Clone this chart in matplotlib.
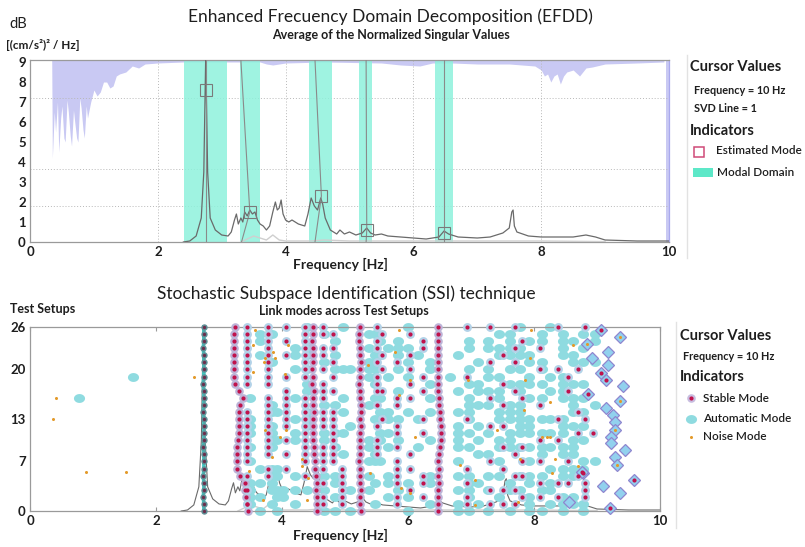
import matplotlib
matplotlib.use("Agg")
import matplotlib.pyplot as plt
import numpy as np
from matplotlib.path import Path

plt.rcParams['font.family'] = ['Lato', 'DejaVu Sans']

# ---------------- EFDD data (top panel) ----------------
spec_f = [2.40, 2.50, 2.60, 2.68, 2.72, 2.75, 2.78, 2.82, 2.90, 3.00, 3.10, 3.15, 3.20, 3.23,
          3.26, 3.30, 3.33, 3.36, 3.40, 3.44, 3.48, 3.52, 3.56, 3.60, 3.65, 3.70, 3.75, 3.80,
          3.84, 3.87, 3.90, 3.93, 3.96, 4.00, 4.05, 4.10, 4.20, 4.30, 4.35, 4.40, 4.45, 4.50,
          4.55, 4.58, 4.62, 4.70, 4.80, 4.85, 4.92, 5.00, 5.10, 5.20, 5.27, 5.33, 5.40, 5.50,
          5.60, 5.80, 6.00, 6.20, 6.40, 6.48, 6.55, 6.70, 7.00, 7.20, 7.40, 7.50, 7.54, 7.56,
          7.58, 7.62, 7.80, 8.00, 8.50, 8.70, 8.85, 9.00, 9.50, 10.0]
spec_v = [0.00, 0.05, 0.30, 1.20, 3.50, 9.30, 3.50, 1.20, 0.60, 0.35, 0.30, 0.50, 1.10, 1.40,
          0.90, 1.20, 1.00, 1.50, 1.30, 1.60, 1.40, 1.50, 1.10, 0.90, 0.80, 0.60, 0.80, 1.50,
          2.00, 1.60, 1.70, 2.10, 1.40, 1.10, 1.00, 1.10, 0.90, 0.80, 1.40, 2.20, 1.80, 1.60,
          2.20, 1.90, 1.20, 0.60, 0.40, 0.60, 0.40, 0.50, 0.35, 0.45, 0.70, 0.45, 0.35, 0.40,
          0.30, 0.25, 0.20, 0.15, 0.25, 0.55, 0.40, 0.25, 0.20, 0.25, 0.45, 0.70, 1.50, 1.60,
          0.80, 0.50, 0.30, 0.25, 0.25, 0.35, 0.25, 0.10, 0.05, 0.05]
sv2_f = [3.30, 3.40, 3.50, 3.60, 3.70, 3.80, 3.90, 4.00, 4.40, 4.60, 5.00, 6.00, 7.00, 8.00, 9.00]
sv2_v = [0.00, 0.15, 0.30, 0.20, 0.10, 0.35, 0.10, 0.05, 0.05, 0.10, 0.05, 0.05, 0.05, 0.05, 0.02]

# lower edge of the normalized-SV shading hanging from the top
shade_f = [0.34, 0.35, 0.38, 0.40, 0.43, 0.45, 0.48, 0.50, 0.53, 0.55, 0.58, 0.60, 0.63, 0.65,
           0.68, 0.70, 0.73, 0.75, 0.78, 0.80, 0.83, 0.85, 0.88, 0.90, 0.95, 1.00, 1.05, 1.10,
           1.15, 1.20, 1.25, 1.30, 1.35, 1.40, 1.50, 1.60, 1.70, 1.80, 2.00, 2.40, 3.60, 3.70,
           3.80, 4.00, 4.60, 5.50, 5.80, 6.10, 6.30, 6.60, 7.00, 7.50, 7.90, 8.00, 8.05, 8.10,
           8.15, 8.20, 8.25, 8.30, 8.35, 8.40, 8.50, 8.60, 8.70, 8.80, 9.00, 9.50, 9.92]
shade_v = [9.10, 4.20, 6.50, 5.50, 7.00, 4.50, 6.20, 6.80, 5.20, 5.00, 7.10, 6.50, 5.30, 4.80,
           6.60, 6.00, 5.20, 5.00, 7.20, 6.70, 5.60, 5.20, 6.80, 6.20, 7.00, 7.60, 7.30, 7.50,
           8.00, 8.00, 7.70, 7.80, 8.30, 8.40, 8.50, 8.80, 8.70, 8.90, 8.95, 9.00, 9.00, 8.90,
           8.85, 8.95, 9.00, 8.95, 8.85, 8.80, 8.95, 8.95, 8.90, 8.90, 8.80, 8.60, 8.30, 8.40,
           8.00, 8.30, 8.40, 7.90, 8.30, 8.50, 8.60, 8.30, 8.70, 8.75, 8.90, 8.95, 9.00]

domain_lo = [2.41, 3.29, 4.37, 5.15, 6.34]
domain_hi = [3.08, 3.60, 4.73, 5.35, 6.62]

mode_f = [2.76, 3.44, 4.56, 5.27, 6.48]
mode_v = [7.60, 1.50, 2.30, 0.60, 0.45]
mode_top_f = [2.76, 3.30, 4.46, 5.26, 6.48]
mode_bot_f = [2.76, 3.31, 4.46, 5.26, 6.48]

# ---------------- SSI data (bottom panel) ----------------
rows = list(range(27))
chain_teal = [2.76, 2.76, 2.75, 2.76, 2.76, 2.75, 2.76, 2.76, 2.76, 2.75, 2.76, 2.76, 2.76, 2.76,
              2.75, 2.76, 2.76, 2.76, 2.75, 2.76, 2.76, 2.76, 2.76, 2.75, 2.76, 2.76, 2.76]
chain_a = [3.46, 3.45, 3.43, 3.42, 3.41, 3.33, 3.29, 3.28, 3.28, 3.29, 3.30, 3.31, 3.31, 3.32,
           3.32, 3.33, 3.38, 3.31, 3.26, 3.24, 3.24, 3.24, 3.24, 3.24, 3.24, 3.24, 3.25]
chain_b = [4.55, 4.55, 4.55, 4.54, 4.55, 4.54, 4.53, 4.52, 4.50, 4.50, 4.49, 4.49, 4.49, 4.49,
           4.50, 4.49, 4.49, 4.50, 4.48, 4.49, 4.48, 4.49, 4.49, 4.49, 4.48, 4.49, 4.49]
chain_c = [5.25, 5.24, 5.24, 5.25, 5.24, 5.24, 5.24, 5.23, 5.24, 5.24, 5.24, 5.24, 5.25, 5.24,
           5.25, 5.25, 5.24, 5.24, 5.23, 5.24, 5.24, 5.25, 5.24, 5.24, 5.23, 5.23, 5.24]
chain_d = [6.47, 6.47, 6.48, 6.48, 6.49, 6.48, 6.49, 6.48, 6.49, 6.50, 6.52, 6.52, 6.53, 6.51,
           6.50, 6.49, 6.49, 6.48, 6.48, 6.47, 6.47, 6.48, 6.48, 6.48, 6.47, 6.48, 6.48]

stable_x = [3.44, 3.77, 4.07, 4.37, 4.65, 4.81, 4.95, 5.50, 5.58, 5.82, 6.03, 6.24,
            6.93, 7.30, 7.51, 7.70, 7.81, 8.10, 8.38, 8.54, 8.70, 8.81, 8.94]
stable_rows = [
    [26, 25, 24, 23, 22, 21, 20, 19, 18, 14, 13, 12, 11, 10, 9, 8, 7, 5, 3, 1],
    [26, 25, 24, 23, 22, 21, 20, 19, 18, 16, 15, 14, 13, 12, 11, 10, 9, 8, 6, 5],
    [26, 24, 22, 19, 17, 16, 15, 14, 13, 12, 10, 8, 6],
    [26, 25, 24, 23, 22, 21, 20, 19, 16, 15, 14, 13, 12, 11, 10, 9, 8, 7, 5],
    [26, 25, 23, 22, 20, 18, 17, 16, 14, 13, 12, 9, 8, 7, 6, 4, 2, 1],
    [25, 23, 21, 19, 17, 14, 13, 12, 11, 10, 9, 8, 7],
    [6, 5, 4, 3, 2, 1],
    [26, 24, 23, 21, 19, 18, 17, 15, 12, 10, 9, 8],
    [25, 22, 20, 17, 13],
    [21, 16, 15, 12, 11, 9, 7, 6, 5, 4, 2, 1],
    [25, 22, 20, 18, 16, 8, 6, 3],
    [24, 23, 19, 17, 13, 11, 5, 4, 2],
    [26, 19, 13, 6, 4, 2, 1],
    [26, 21, 16, 12, 7, 3, 1],
    [22, 18, 15, 12, 9, 6, 3, 1],
    [26, 23, 21, 17, 8, 5, 3, 1],
    [24, 16, 9, 7, 5, 2],
    [23, 20, 15, 10, 7, 4, 2],
    [26, 20, 13, 10, 4, 2],
    [19, 17, 7, 4],
    [20, 14, 11, 5],
    [26, 13, 4, 3, 2],
    [11],
]

auto_x = [3.49, 3.65, 3.84, 3.92, 4.02, 4.21, 4.40, 4.67, 4.84, 4.97, 5.08, 5.38, 5.48, 5.56,
          5.69, 5.84, 6.00, 6.16, 6.35, 6.79, 6.97, 7.11, 7.27, 7.44, 7.62, 7.78, 7.92, 8.13,
          8.25, 8.46, 8.62, 8.78, 8.97]
auto_rows = [
    [16, 13, 12, 11, 9, 7, 4, 3, 2, 1],
    [25, 24, 22, 6, 4, 2, 0],
    [25, 21, 15, 14, 12, 11, 10, 9, 6, 5, 4, 3, 1],
    [14, 10, 6, 5, 3, 2, 0],
    [3, 2],
    [23, 22, 20, 16, 13, 11, 10, 5, 3, 1],
    [26, 23, 22, 20, 18, 17, 14, 13, 12, 3],
    [25, 21, 15, 11, 10, 5, 3, 0],
    [24, 22, 20, 15, 11, 9, 5, 4, 2, 0],
    [26, 20, 16, 14, 11, 8, 3],
    [20, 12, 3, 0],
    [25, 23, 21, 20, 19, 15, 10, 9, 7, 5, 3],
    [25, 22, 21, 20, 19, 18, 16, 13, 8, 7, 4, 1],
    [24, 22, 16, 14, 11, 10, 7],
    [23, 19, 14, 13, 11, 9, 5, 4, 2],
    [24, 23, 22, 20, 17, 13, 10, 3],
    [26, 23, 21, 19, 14, 4, 2, 0],
    [22, 13, 9],
    [21, 20, 18, 16, 14, 10, 5, 4, 1],
    [22, 17, 14, 12, 11, 10, 9, 7, 5, 3, 1, 0],
    [24, 23, 20, 18, 16, 15, 14, 13, 11, 9, 5, 4, 3, 2, 0],
    [21, 18, 17, 15, 12, 10, 8, 4, 1],
    [24, 23, 20, 19, 17, 15, 11, 8, 5, 3, 0],
    [25, 23, 22, 19, 17, 16, 14, 13, 10, 9, 7, 5, 2],
    [25, 24, 23, 22, 20, 18, 15, 14, 13, 11, 10, 9, 4, 3, 0],
    [26, 23, 22, 20, 18, 17, 15, 14, 13, 12, 11, 9, 5, 3],
    [24, 22, 21, 19, 18, 16, 13, 12, 11, 9, 7, 5, 4, 2, 1, 0],
    [25, 24, 21, 20, 18, 16, 13, 11, 9, 8, 5, 3, 0],
    [26, 19, 17, 13, 11, 9, 6, 4, 3, 1],
    [25, 24, 23, 22, 19, 18, 17, 16, 13, 12, 11, 9, 8, 6, 5, 2, 1, 0],
    [24, 22, 21, 18, 16, 15, 14, 12, 10, 9, 8, 6, 5, 2, 1],
    [25, 23, 21, 18, 16, 14, 12, 10, 7, 6, 1, 0],
    [25, 24, 21, 15, 7],
]
auto_extra_x = [0.78, 1.64, 6.67]
auto_extra_y = [16.0, 19.0, 19.0]

noise_x = [0.42, 0.37, 0.89, 1.52, 2.60, 3.57, 3.54, 3.86, 4.10, 3.73, 3.71, 3.89, 3.54, 4.05,
           3.73, 4.07, 3.97, 4.31, 4.31, 4.42, 3.84, 3.47, 3.70, 4.39, 5.85, 5.79, 5.37, 6.03,
           5.85, 6.11, 5.40, 6.03, 5.89, 7.96, 7.94, 6.96, 7.86, 7.84, 7.41, 8.12, 8.20, 6.83,
           7.06, 7.78, 7.75, 7.06, 8.62, 8.25, 8.25, 8.33, 8.70, 8.29]
noise_y = [16.0, 13.0, 5.5, 5.5, 19.0, 25.6, 23.4, 22.5, 23.4, 21.6, 21.0, 21.6, 19.6, 19.4,
           11.4, 11.4, 10.5, 7.4, 6.3, 4.6, 7.7, 5.6, 1.6, 1.6, 25.6, 22.5, 20.6, 18.5,
           16.4, 10.5, 5.3, 2.5, 3.3, 25.6, 21.6, 18.5, 18.5, 14.3, 11.4, 10.5, 10.5, 6.5,
           4.4, 7.4, 1.3, 0.8, 23.4, 15.4, 10.5, 7.4, 6.3, 5.4]

diam_x = [9.07, 9.37, 8.84, 8.92, 9.18, 9.18, 9.07, 9.15, 9.42, 8.86, 9.37, 9.15, 9.26, 9.29,
          9.29, 9.23, 9.22, 9.44, 9.29, 9.31, 8.77, 9.58, 9.10, 9.37, 8.55, 9.21, 8.76]
diam_y = [25.6, 24.6, 23.6, 21.6, 22.5, 20.6, 19.5, 18.5, 17.6, 16.6, 15.5, 14.5, 13.6, 12.6,
          11.5, 10.5, 9.6, 8.6, 7.7, 6.5, 5.4, 4.4, 3.5, 2.5, 1.3, 0.4, 5.5]
# centre mark inside each diamond: 's' stable, 'n' noise, '' none
diam_core = ['s', 'n', 'n', '', '', '', 's', 's', '', 's', 'n', '', '', '',
             'n', '', '', '', '', 'n', 's', 's', '', '', '', 's', 's']

ssi_spec_scale = 2.85

# ---------------- styling ----------------
c_shade = '#c9c9f3'
c_domain = '#8ef2dc'
c_line = '#6a6a6a'
c_auto = '#8fdbe0'
c_halo = '#b3d2e8'
c_stable = '#c0124c'
c_noise = '#e39a2a'
c_chain = '#e0607e'
c_teal = '#3fc9c2'
c_text = '#1e1e1e'

ellipse = Path(np.column_stack([np.cos(np.linspace(0, 2 * np.pi, 40)),
                                0.8 * np.sin(np.linspace(0, 2 * np.pi, 40))]))

fig = plt.figure(figsize=(8.05, 5.47), dpi=100)
W, H = 805, 547

ax1 = fig.add_axes([30 / W, 1 - 242 / H, 639 / W, 182 / H])
ax2 = fig.add_axes([30 / W, 1 - 511 / H, 630 / W, 184 / H])

# ----- top: EFDD -----
ax1.fill_between(shade_f, shade_v, 9.1, color=c_shade, lw=0, zorder=1)
ax1.axvspan(9.95, 10.0, color=c_shade, lw=0, zorder=1)
for lo, hi in zip(domain_lo, domain_hi):
    ax1.axvspan(lo, hi, color=c_domain, alpha=0.85, lw=0, zorder=2)
for g in [1.8, 3.65, 7.2]:
    ax1.axhline(g, color='#b8b8b8', lw=0.7, ls=(0, (1, 2)), zorder=1.5)
for g in [2, 4, 6, 8]:
    ax1.axvline(g, color='#b8b8b8', lw=0.7, ls=(0, (1, 2)), zorder=1.5)
ax1.plot(sv2_f, sv2_v, color='#cfcfcf', lw=1.0, zorder=3)
ax1.plot(spec_f, spec_v, color=c_line, lw=0.9, zorder=4)
for ft, fm, vm, fb in zip(mode_top_f, mode_f, mode_v, mode_bot_f):
    ax1.plot([ft, fm, fb], [9.1, vm, 0], color='#8a8a8a', lw=0.8, zorder=4)
ax1.plot(mode_f, mode_v, ls='none', marker='s', ms=8, mfc='none', mec='#7a7a7a',
         mew=0.8, zorder=5)
ax1.set_xlim(0, 10)
ax1.set_ylim(0, 9.1)
ax1.set_yticks(range(10))
ax1.set_xticks([0, 2, 4, 6, 8, 10])

# ----- bottom: SSI -----
ssi_v = [v * ssi_spec_scale for v in spec_v]
ssi_v2 = [v * ssi_spec_scale for v in sv2_v]
ax2.plot(sv2_f, ssi_v2, color='#d0d0d0', lw=1.0, zorder=1)
ax2.plot(spec_f, ssi_v, color=c_line, lw=0.8, zorder=1)

for cx, cr in zip(auto_x, auto_rows):
    ax2.plot([cx] * len(cr), cr, ls='none', marker=ellipse, ms=8, mfc=c_auto, mec='none',
             zorder=2, clip_on=False)
ax2.plot(auto_extra_x, auto_extra_y, ls='none', marker=ellipse, ms=8, mfc=c_auto,
         mec='none', zorder=2)

ax2.plot(chain_teal, rows, color=c_teal, lw=2.6, zorder=3, clip_on=False)
ax2.plot(chain_teal, rows, ls='none', marker='o', ms=4.6, mfc='#5f8f96', mec='none', zorder=4,
         clip_on=False)
ax2.plot(chain_teal, rows, ls='none', marker='o', ms=2.4, mfc='#6a2e4c', mec='none', zorder=5,
         clip_on=False)

for ch in [chain_a, chain_b, chain_c, chain_d]:
    ax2.plot(ch, rows, color=c_chain, lw=0.8, zorder=3, clip_on=False)
    ax2.plot(ch, rows, ls='none', marker='o', ms=6.2, mfc='#bdb4d8', mec='none', zorder=4,
             clip_on=False)
    ax2.plot(ch, rows, ls='none', marker='o', ms=3.0, mfc=c_stable, mec='none', zorder=5,
             clip_on=False)

for cx, cr in zip(stable_x, stable_rows):
    ax2.plot([cx] * len(cr), cr, ls='none', marker='o', ms=6.4, mfc=c_halo, mec='none',
             zorder=4, clip_on=False)
    ax2.plot([cx] * len(cr), cr, ls='none', marker='o', ms=3.0, mfc=c_stable, mec='none',
             zorder=5, clip_on=False)

ax2.plot(diam_x, diam_y, ls='none', marker='D', ms=6.5, mfc='#92d1ee', mec='#8f86cf',
         mew=0.9, zorder=4, clip_on=False)
for dx, dy, core in zip(diam_x, diam_y, diam_core):
    if core == 's':
        ax2.plot(dx, dy, marker='o', ms=3.0, mfc=c_stable, mec='none', zorder=6)
    elif core == 'n':
        ax2.plot(dx, dy, marker='o', ms=2.2, mfc=c_noise, mec='none', zorder=6)

ax2.plot(noise_x, noise_y, ls='none', marker='o', ms=2.2, mfc=c_noise, mec='none', zorder=6)

ax2.set_xlim(0, 10)
ax2.set_ylim(0, 26)
ax2.set_yticks([0, 7, 13, 20, 26])
ax2.set_xticks([0, 2, 4, 6, 8, 10])

for ax in (ax1, ax2):
    for s in ax.spines.values():
        s.set_color('#9a9a9a')
        s.set_linewidth(0.9)
    ax.tick_params(length=0, labelsize=9.5, labelcolor=c_text, pad=3)
    for lab in ax.get_xticklabels() + ax.get_yticklabels():
        lab.set_fontweight('bold')
ax1.spines['right'].set_color('#a9a9ee')
ax2.tick_params(axis='x', top=True, direction='in', length=3, color='#9a9a9a')

# ----- text and legends in pixel coordinates -----
ov = fig.add_axes([0, 0, 1, 1], facecolor='none')
ov.set_xlim(0, W)
ov.set_ylim(H, 0)
ov.axis('off')

ov.text(390, 17, 'Enhanced Frecuency Domain Decomposition (EFDD)', ha='center', va='center',
        fontsize=12.5, color=c_text)
ov.text(391, 35, 'Average of the Normalized Singular Values', ha='center', va='center',
        fontsize=9, fontweight='bold', color=c_text)
ov.text(9, 24, 'dB', ha='left', va='center', fontsize=10.5, color=c_text)
ov.text(6, 45, '[(cm/s²)² / Hz]', ha='left', va='center', fontsize=8.5, fontweight='bold',
        color=c_text)
ov.text(340, 264, 'Frequency [Hz]', ha='center', va='center', fontsize=10, fontweight='bold',
        color=c_text)

ov.text(346, 294, 'Stochastic Subspace Identification (SSI) technique', ha='center',
        va='center', fontsize=12.5, color=c_text)
ov.text(344, 311, 'Link modes across Test Setups', ha='center', va='center', fontsize=9,
        fontweight='bold', color=c_text)
ov.text(10, 309, 'Test Setups', ha='left', va='center', fontsize=9, fontweight='bold',
        color=c_text)
ov.text(340, 535, 'Frequency [Hz]', ha='center', va='center', fontsize=10, fontweight='bold',
        color=c_text)

# top legend
ov.plot([687, 687], [55, 258], color='#e2e2e2', lw=1)
ov.text(690, 67, 'Cursor Values', ha='left', va='center', fontsize=10.5, fontweight='bold',
        color=c_text)
ov.text(694, 90, 'Frequency = 10 Hz', ha='left', va='center', fontsize=7.8,
        fontweight='bold', color=c_text)
ov.text(694, 108, 'SVD Line = 1', ha='left', va='center', fontsize=7.8, fontweight='bold',
        color=c_text)
ov.text(690, 131, 'Indicators', ha='left', va='center', fontsize=10.5, fontweight='bold',
        color=c_text)
ov.plot([699], [152], marker='s', ms=7, mfc='none', mec='#d04a78', mew=1.1)
ov.text(716, 151, 'Estimated Mode', ha='left', va='center', fontsize=8.5,
        fontweight='semibold', color=c_text)
ov.add_patch(plt.Rectangle((693, 168), 20, 9, color='#5de8c8', lw=0))
ov.text(717, 172, 'Modal Domain', ha='left', va='center', fontsize=8.5,
        fontweight='semibold', color=c_text)

# bottom legend
ov.plot([676, 676], [322, 528], color='#e2e2e2', lw=1)
ov.text(680, 336, 'Cursor Values', ha='left', va='center', fontsize=10.5, fontweight='bold',
        color=c_text)
ov.text(683, 357, 'Frequency = 10 Hz', ha='left', va='center', fontsize=7.8,
        fontweight='bold', color=c_text)
ov.text(680, 377, 'Indicators', ha='left', va='center', fontsize=10.5, fontweight='bold',
        color=c_text)
ov.plot([691], [398], marker='o', ms=6.2, mfc='#c8bde0', mec='none')
ov.plot([691], [398], marker='o', ms=3.0, mfc=c_stable, mec='none')
ov.text(703, 398, 'Stable Mode', ha='left', va='center', fontsize=8.5,
        fontweight='semibold', color=c_text)
ov.plot([691], [419], marker=ellipse, ms=8, mfc=c_auto, mec='none')
ov.text(703, 419, 'Automatic Mode', ha='left', va='center', fontsize=8.5,
        fontweight='semibold', color=c_text)
ov.plot([691], [437], marker='o', ms=2.2, mfc=c_noise, mec='none')
ov.text(703, 437, 'Noise Mode', ha='left', va='center', fontsize=8.5,
        fontweight='semibold', color=c_text)

fig.savefig('out.png', dpi=100)
